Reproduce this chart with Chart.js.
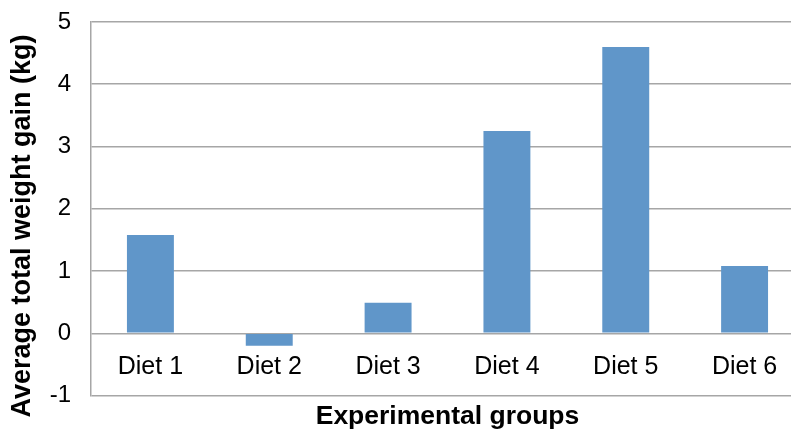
<!DOCTYPE html>
<html>
<head>
<meta charset="utf-8">
<script src="https://cdn.jsdelivr.net/npm/chart.js@4/dist/chart.umd.min.js"></script>
<style>
  html, body { margin: 0; padding: 0; background: #ffffff; overflow: hidden; }
  #wrap { width: 812px; height: 430px; }
</style>
</head>
<body>
<div id="wrap"><canvas id="c" width="812" height="430"></canvas></div>
<script>
// Average total weight gain per diet group
const categories = ['Diet 1', 'Diet 2', 'Diet 3', 'Diet 4', 'Diet 5', 'Diet 6'];
const weightGain = [1.58, -0.2, 0.49, 3.25, 4.6, 1.08];
const yTicks = [-1, 0, 1, 2, 3, 4, 5];
const yTitle = 'Average total weight gain (kg)';
const xTitle = 'Experimental groups';

const FONT = '"Liberation Sans", Arial, Helvetica, sans-serif';
const GRID = '#a6a6a6';

// Category labels sit just below the zero line, and the y title is drawn
// centred between the plot top and the bottom of the canvas.
const labelsPlugin = {
  id: 'zeroLineLabels',
  afterDraw(chart) {
    const ctx = chart.ctx;
    const xs = chart.scales.x;
    const ys = chart.scales.y;
    const y0 = ys.getPixelForValue(0);
    ctx.save();
    ctx.fillStyle = '#000000';
    ctx.font = '25px ' + FONT;
    ctx.textAlign = 'center';
    ctx.textBaseline = 'middle';
    categories.forEach((name, i) => {
      ctx.fillText(name, xs.getPixelForValue(i), y0 + 34);
    });
    ctx.font = 'bold 27px ' + FONT;
    ctx.translate(23, (chart.chartArea.top + chart.height) / 2);
    ctx.rotate(-Math.PI / 2);
    ctx.fillText(yTitle, 0, 0);
    ctx.restore();
  }
};

new Chart(document.getElementById('c'), {
  type: 'bar',
  data: {
    labels: categories,
    datasets: [{
      data: weightGain,
      backgroundColor: '#6096c9',
      borderWidth: 0,
      barPercentage: 0.395,
      categoryPercentage: 1.0
    }]
  },
  options: {
    responsive: false,
    animation: false,
    devicePixelRatio: 1,
    layout: { padding: { top: 22, right: 8, left: 0, bottom: 0 } },
    plugins: {
      legend: { display: false },
      tooltip: { enabled: false }
    },
    scales: {
      x: {
        grid: { display: false, drawTicks: false },
        border: { display: false },
        ticks: { display: false },
        title: {
          display: true,
          text: xTitle,
          color: '#000000',
          font: { family: FONT, size: 26.5, weight: 'bold', lineHeight: 1 },
          padding: { top: 8, bottom: 0 }
        }
      },
      y: {
        min: -1,
        max: 5,
        afterBuildTicks(scale) {
          scale.ticks = yTicks.map(v => ({ value: v }));
        },
        afterFit(scale) {
          scale.width = 91;
          scale.paddingTop = 0;
          scale.paddingBottom = 0;
        },
        grid: { color: GRID, lineWidth: 1.5, drawTicks: false },
        border: { display: true, color: GRID, width: 1.5 },
        ticks: {
          color: '#000000',
          padding: 20,
          font: { family: FONT, size: 24 }
        }
      }
    }
  },
  plugins: [labelsPlugin]
});
</script>
</body>
</html>
